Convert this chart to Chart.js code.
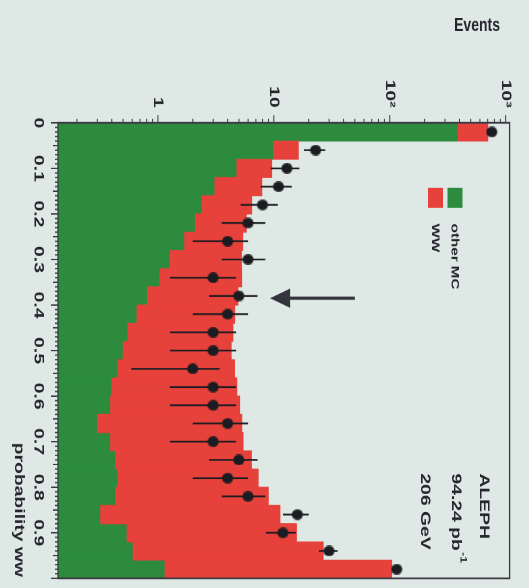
<!DOCTYPE html>
<html>
<head>
<meta charset="utf-8">
<script src="https://cdn.jsdelivr.net/npm/chart.js@4.4.1/dist/chart.umd.min.js"></script>
<style>
  html, body { margin: 0; padding: 0; width: 529px; height: 588px; overflow: hidden; background: #dee9e6; }
  /* the plot is laid out landscape and turned a quarter turn clockwise */
  #wrap { position: absolute; left: 0; top: 0; width: 426px; height: 529px;
          transform-origin: 0 0; transform: translate(529px, 0) rotate(90deg) scale(1.3803, 1); }
  canvas { display: block; }
</style>
</head>
<body>
<div id="wrap"><canvas id="c" width="426" height="529"></canvas></div>
<script>
// bin centres of the WW probability (25 bins of width 0.04)
const binCenters = [0.02, 0.06, 0.10, 0.14, 0.18, 0.22, 0.26, 0.30, 0.34, 0.38, 0.42, 0.46, 0.50,
                    0.54, 0.58, 0.62, 0.66, 0.70, 0.74, 0.78, 0.82, 0.86, 0.90, 0.94, 0.98];
// selected data events and their statistical errors
const dataEvents = [760, 23, 13, 11, 8, 6, 4, 6, 3, 5, 4, 3, 3, 2, 3, 3, 4, 3, 5, 4, 6, 16, 12, 30, 115];
const dataErrors = [27.6, 4.8, 3.6, 3.3, 2.83, 2.45, 2.0, 2.45, 1.73, 2.24, 2.0, 1.73, 1.73, 1.41,
                    1.73, 1.73, 2.0, 1.73, 2.24, 2.0, 2.45, 4.0, 3.46, 5.48, 10.7];
// Monte Carlo expectation: non-WW background and WW signal (stacked on top)
const otherMC = [387, 9.9, 4.8, 3.1, 2.4, 2.1, 1.7, 1.27, 1.04, 0.81, 0.66, 0.55, 0.50, 0.45, 0.40,
                 0.39, 0.30, 0.39, 0.43, 0.45, 0.43, 0.32, 0.54, 0.61, 1.15];
const wwMC = [316, 6.4, 4.8, 4.8, 4.05, 3.7, 3.7, 4.0, 4.25, 4.1, 3.95, 3.9, 3.8, 4.15, 4.4,
              4.7, 5.0, 5.05, 6.0, 6.9, 8.55, 11.0, 15.15, 26.1, 103];
const seriesNames = ['other MC', 'WW'];

// axis ticks and labels
const probTickValues = [0, 0.1, 0.2, 0.3, 0.4, 0.5, 0.6, 0.7, 0.8, 0.9];
const probTickLabels = ['0', '0.1', '0.2', '0.3', '0.4', '0.5', '0.6', '0.7', '0.8', '0.9'];
const logTickValues = [1, 10, 100, 1000];
const logTickLabels = ['1', '10', '10\u00B2', '10\u00B3'];
const yRange = [0.1374, 1082];

// cut marker: WW probability and the events range the arrow spans
const cutArrow = { prob: 0.385, from: 50, to: 9.3 };

const infoLines = ['ALEPH', '94.24 pb', '206 GeV'];

const GREEN = '#2c8b3d';
const RED = '#e6413a';
const INK = '#26262e';
const FRAME = '#3a3a42';
const FONT = '"Liberation Sans", Arial, Helvetica, sans-serif';

// round marker
const marker = document.createElement('canvas');
marker.width = 8; marker.height = 12;
(function () {
  const m = marker.getContext('2d');
  m.fillStyle = '#1b1b22';
  m.beginPath();
  m.ellipse(4, 6, 3.9, 5.6, 0, 0, Math.PI * 2);
  m.fill();
})();

const greenBars = binCenters.map((x, i) => ({ x: x, y: otherMC[i] }));
const redBars = binCenters.map((x, i) => ({ x: x, y: [otherMC[i], otherMC[i] + wwMC[i]] }));
const points = binCenters.map((x, i) => ({ x: x, y: dataEvents[i] }));

const decorations = {
  id: 'decorations',
  beforeDraw(chart) {
    const ctx = chart.ctx;
    ctx.save();
    ctx.fillStyle = '#dee9e6';
    ctx.fillRect(0, 0, chart.width, chart.height);
    ctx.restore();
  },
  afterDatasetDraw(chart, args) {
    // error bars go on after the stacked histogram, under the markers
    if (args.index !== 1) return;
    const ctx = chart.ctx, xs = chart.scales.x, ys = chart.scales.y;
    ctx.save();
    ctx.strokeStyle = '#1b1b22';
    ctx.lineWidth = 1.25;
    binCenters.forEach((c, i) => {
      const px = xs.getPixelForValue(c);
      const lo = Math.max(dataEvents[i] - dataErrors[i], yRange[0]);
      const hi = dataEvents[i] + dataErrors[i];
      ctx.beginPath();
      ctx.moveTo(px, ys.getPixelForValue(lo));
      ctx.lineTo(px, ys.getPixelForValue(hi));
      ctx.stroke();
    });
    ctx.restore();
  },
  afterDraw(chart) {
    const ctx = chart.ctx, xs = chart.scales.x, ys = chart.scales.y;
    const a = chart.chartArea;
    ctx.save();

    // frame
    ctx.strokeStyle = FRAME;
    ctx.lineWidth = 1.3;
    ctx.strokeRect(a.left, a.top, a.right - a.left, a.bottom - a.top);

    // probability axis ticks
    ctx.lineWidth = 1;
    for (let i = 0; i <= 100; i++) {
      const px = xs.getPixelForValue(i / 100);
      const len = i % 10 === 0 ? 7 : (i % 5 === 0 ? 5 : 3);
      ctx.beginPath();
      ctx.moveTo(px, a.bottom);
      ctx.lineTo(px, a.bottom + len);
      ctx.stroke();
    }
    // log axis ticks
    for (let d = -1; d <= 3; d++) {
      for (let m = 1; m <= 9; m++) {
        const v = m * Math.pow(10, d);
        if (v < yRange[0] || v > yRange[1]) continue;
        const py = ys.getPixelForValue(v);
        const len = m === 1 ? 5.5 : 3;
        ctx.beginPath();
        ctx.moveTo(a.left, py);
        ctx.lineTo(a.left - len, py);
        ctx.stroke();
      }
    }

    // cut arrow
    const ax = xs.getPixelForValue(cutArrow.prob);
    const yTip = ys.getPixelForValue(cutArrow.to);
    const yTail = ys.getPixelForValue(cutArrow.from);
    ctx.strokeStyle = '#34343c';
    ctx.fillStyle = '#34343c';
    ctx.lineWidth = 2.4;
    ctx.beginPath();
    ctx.moveTo(ax, yTail);
    ctx.lineTo(ax, yTip - 18);
    ctx.stroke();
    ctx.beginPath();
    ctx.moveTo(ax, yTip);
    ctx.lineTo(ax - 7, yTip - 20);
    ctx.lineTo(ax + 7, yTip - 20);
    ctx.closePath();
    ctx.fill();

    // legend
    const ds = chart.data.datasets;
    const legendRows = [
      { color: ds[2].backgroundColor, text: seriesNames[0], y: 74 },
      { color: ds[1].backgroundColor, text: seriesNames[1], y: 93.5 }
    ];
    ctx.font = 'bold 11px ' + FONT;
    ctx.textAlign = 'left';
    ctx.textBaseline = 'middle';
    legendRows.forEach(r => {
      ctx.fillStyle = r.color;
      ctx.fillRect(136, r.y - 7.5, 14.5, 15);
      ctx.fillStyle = INK;
      ctx.fillText(r.text, 162, r.y + 0.5);
    });

    // experiment / luminosity / energy block
    ctx.font = 'bold 14px ' + FONT;
    ctx.fillStyle = INK;
    ctx.fillText(infoLines[0], 343, 45);
    ctx.fillText(infoLines[1], 343, 73);
    const w = ctx.measureText(infoLines[1]).width;
    ctx.font = 'bold 9px ' + FONT;
    ctx.fillText('-1', 343 + w + 1, 66);
    ctx.font = 'bold 14px ' + FONT;
    ctx.fillText(infoLines[2], 343, 104);

    // axis titles
    ctx.textAlign = 'right';
    ctx.fillText('probability ww', 418, 510);
    ctx.save();
    ctx.translate(18.5, 29);
    ctx.rotate(-Math.PI / 2);
    ctx.fillText('Events', 0, 0);
    ctx.restore();

    ctx.restore();
  }
};

new Chart(document.getElementById('c'), {
  type: 'bar',
  data: {
    datasets: [
      {
        type: 'scatter',
        label: 'data',
        data: points,
        pointStyle: marker,
        pointRadius: 5,
        order: 0
      },
      {
        label: seriesNames[1],
        data: redBars,
        backgroundColor: RED,
        borderWidth: 0,
        grouped: false,
        barPercentage: 1,
        categoryPercentage: 1,
        order: 1
      },
      {
        label: seriesNames[0],
        data: greenBars,
        backgroundColor: GREEN,
        borderWidth: 0,
        grouped: false,
        barPercentage: 1,
        categoryPercentage: 1,
        order: 2
      }
    ]
  },
  options: {
    responsive: false,
    animation: false,
    devicePixelRatio: 2,
    layout: { padding: { top: 19, right: 7, left: 0, bottom: 0 } },
    plugins: { legend: { display: false }, tooltip: { enabled: false } },
    scales: {
      x: {
        type: 'linear',
        position: 'bottom',
        min: 0,
        max: 1,
        offset: false,
        grid: { display: false, drawTicks: false },
        border: { display: false },
        afterBuildTicks(scale) { scale.ticks = probTickValues.map(v => ({ value: v })); },
        afterFit(scale) { scale.height = 58; },
        ticks: {
          autoSkip: false,
          maxRotation: 0,
          minRotation: 0,
          padding: 11,
          color: INK,
          font: { family: FONT, size: 14, weight: 'bold' },
          callback(v) {
            const i = probTickValues.findIndex(t => Math.abs(t - v) < 1e-9);
            return i >= 0 ? probTickLabels[i] : '';
          }
        }
      },
      y: {
        type: 'logarithmic',
        position: 'left',
        min: yRange[0],
        max: yRange[1],
        bounds: 'data',
        grid: { display: false, drawTicks: false },
        border: { display: false },
        afterBuildTicks(scale) { scale.ticks = logTickValues.map(v => ({ value: v })); },
        afterFit(scale) { scale.width = 89; },
        ticks: {
          autoSkip: false,
          padding: 11,
          color: INK,
          font: { family: FONT, size: 14, weight: 'bold' },
          callback(v) {
            const i = logTickValues.findIndex(t => Math.abs(t - v) < 1e-6 * t);
            return i >= 0 ? logTickLabels[i] : '';
          }
        }
      }
    }
  },
  plugins: [decorations]
});
</script>
</body>
</html>
